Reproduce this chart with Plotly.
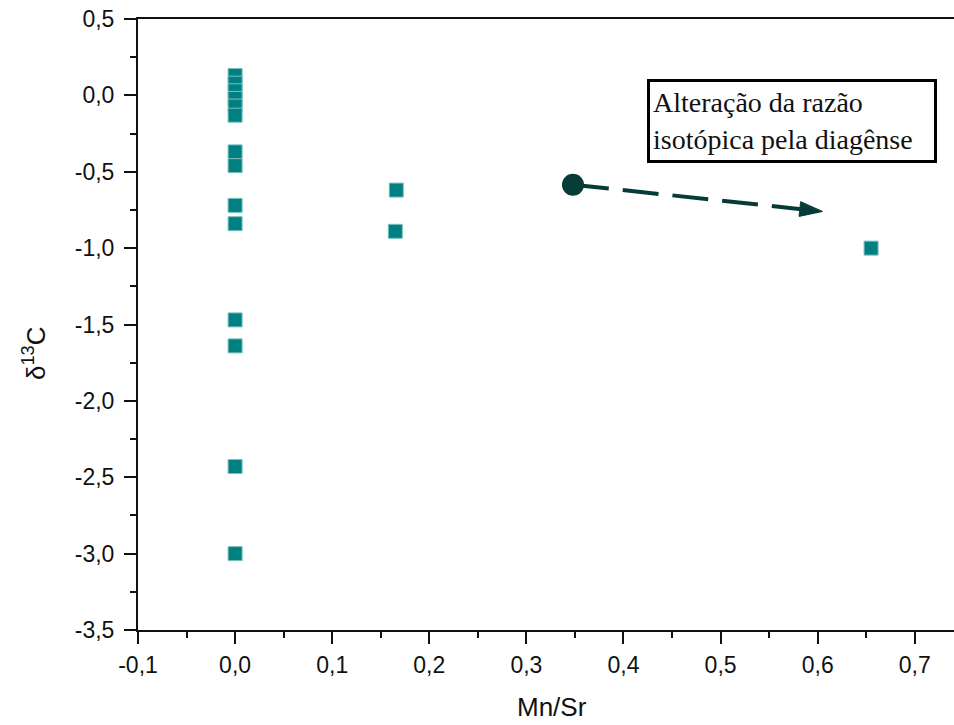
import plotly.graph_objects as go

# Mn/Sr ratio vs. delta 13C of the carbonate samples
mn_sr = [0.0, 0.0, 0.0, 0.0, 0.0, 0.0, 0.0, 0.0, 0.0, 0.0, 0.0, 0.0, 0.0, 0.0,
         0.166, 0.165, 0.655]
d13c = [0.13, 0.08, 0.03, -0.02, -0.07, -0.13, -0.37, -0.46, -0.72, -0.84,
        -1.47, -1.64, -2.43, -3.0, -0.62, -0.89, -1.0]

# diagenetic alteration trend (start, end)
trend_x = [0.348, 0.605]
trend_y = [-0.585, -0.76]

x_ticks = [-0.1, 0.0, 0.1, 0.2, 0.3, 0.4, 0.5, 0.6, 0.7]
x_tick_text = ["-0,1", "0,0", "0,1", "0,2", "0,3", "0,4", "0,5", "0,6", "0,7"]
y_ticks = [0.5, 0.0, -0.5, -1.0, -1.5, -2.0, -2.5, -3.0, -3.5]
y_tick_text = ["0,5", "0,0", "-0,5", "-1,0", "-1,5", "-2,0", "-2,5", "-3,0", "-3,5"]

note_text = "Alteração da razão<br>isotópica pela diagênse"

TEAL = "#008080"
DARK = "#073b38"

fig = go.Figure()

fig.add_trace(go.Scatter(
    x=mn_sr, y=d13c, mode="markers",
    marker=dict(symbol="square", size=14, color=TEAL,
                line=dict(color="#7cc0bd", width=1)),
    showlegend=False, hoverinfo="x+y",
))

# dashed trend line ending in an arrow head
fig.add_trace(go.Scatter(
    x=trend_x, y=trend_y, mode="lines+markers",
    line=dict(color=DARK, width=4, dash="36px,14px"),
    marker=dict(symbol="arrow", size=[0, 24], color=DARK, opacity=1,
                angleref="previous", line=dict(color=DARK, width=1)),
    showlegend=False, hoverinfo="skip",
))

# starting point of the trend
fig.add_trace(go.Scatter(
    x=trend_x[:1], y=trend_y[:1], mode="markers",
    marker=dict(symbol="circle", size=22, color=DARK, line=dict(width=0)),
    showlegend=False, hoverinfo="skip",
))

axis_font = dict(family="Liberation Sans", size=23, color="#111")

fig.update_layout(
    width=954, height=725,
    margin=dict(l=138, r=0, t=19, b=95),
    paper_bgcolor="white", plot_bgcolor="white",
    xaxis=dict(
        range=[-0.1, 0.7404], tickvals=x_ticks, ticktext=x_tick_text,
        showgrid=False, zeroline=False,
        showline=True, linecolor="#111", linewidth=2, mirror=True,
        ticks="outside", ticklen=12, tickwidth=2, tickcolor="#111",
        minor=dict(dtick=0.05, tick0=0, ticks="outside", ticklen=6,
                   tickwidth=2, tickcolor="#111", showgrid=False),
        tickfont=axis_font, ticklabelstandoff=1,
    ),
    yaxis=dict(
        range=[-3.5, 0.5], tickvals=y_ticks, ticktext=y_tick_text,
        showgrid=False, zeroline=False,
        showline=True, linecolor="#111", linewidth=2, mirror=False,
        ticks="outside", ticklen=12, tickwidth=2, tickcolor="#111",
        minor=dict(dtick=0.25, tick0=0, ticks="outside", ticklen=6,
                   tickwidth=2, tickcolor="#111", showgrid=False),
        tickfont=axis_font, ticklabelstandoff=5,
    ),
)

title_font = dict(family="Liberation Sans", size=26, color="#111")

fig.add_annotation(
    text="Mn/Sr", xref="paper", yref="paper", x=(552 - 138) / 816, y=-77 / 611,
    xanchor="center", yanchor="middle", showarrow=False, font=title_font,
)
fig.add_annotation(
    text="δ<sup>13</sup>C", xref="paper", yref="paper", x=-104 / 816, y=(630 - 353) / 611,
    xanchor="center", yanchor="middle", textangle=-90, showarrow=False, font=title_font,
)

fig.add_annotation(
    text=note_text, x=0.5733, y=-0.170, xref="x", yref="y",
    xanchor="center", yanchor="middle", showarrow=False, align="left",
    width=278, height=72, borderpad=3,
    bordercolor="#000", borderwidth=3, bgcolor="white",
    font=dict(family="Liberation Serif", size=28, color="#111"),
)

fig.write_html("out.html")
